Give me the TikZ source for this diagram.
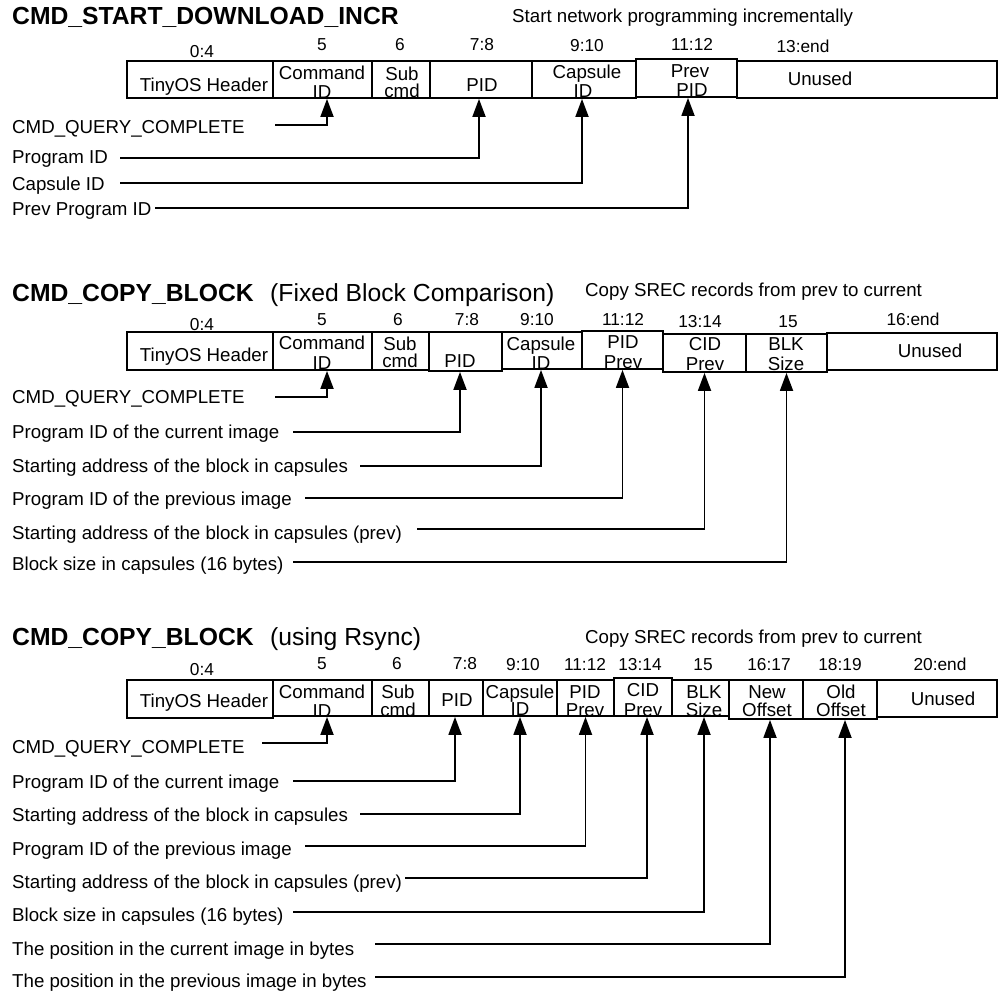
\documentclass[tikz,border=0pt]{standalone}
\usepackage{fontspec}
\setmainfont{Liberation Sans}
\usetikzlibrary{arrows.meta,fit}
\begin{document}
\begin{tikzpicture}[x=1pt,y=-1pt,
  cellbox/.style={draw, line width=1.8pt, inner sep=0pt},
  bt/.style={font=\fontsize{18.7}{19}\selectfont, inner sep=0pt, anchor=base},
  hdr/.style={font=\fontsize{17.3}{18}\selectfont, inner sep=0pt, anchor=base},
  lbl/.style={font=\fontsize{18.7}{19}\selectfont, inner sep=0pt, anchor=base west},
  ttl/.style={font=\fontsize{24.7}{26}\selectfont\bfseries, inner sep=0pt, anchor=base west},
  sttl/.style={font=\fontsize{24.7}{26}\selectfont, inner sep=0pt, anchor=base west},
  conn/.style={line width=1.8pt, -{Triangle[width=13pt,length=18pt]}}]
\path[fill=white] (0,0) rectangle (1007,993);
\useasboundingbox (0,0) rectangle (1007,993);

% ================= Section 1 =================
\node[ttl] (t1) at (12,24) {CMD\_START\_DOWNLOAD\_INCR};
\node[lbl] (d1) at (512,23) {Start network programming incrementally};
\node[hdr] (h1a) at (202,57) {0:4};
\node[hdr] (h1b) at (322,50) {5};
\node[hdr] (h1c) at (400,50) {6};
\node[hdr] (h1d) at (482,50) {7:8};
\node[hdr] (h1e) at (587,51) {9:10};
\node[hdr] (h1f) at (692,50) {11:12};
\node[hdr] (h1g) at (803,52) {13:end};

\node[cellbox, fit={(127,61) (273,98)}] (s1h) {};
\node[cellbox, fit={(273,61) (372,98)}] (s1c) {};
\node[cellbox, fit={(372,61) (430,98)}] (s1s) {};
\node[cellbox, fit={(430,61) (532,98)}] (s1p) {};
\node[cellbox, fit={(532,61) (636,98)}] (s1cap) {};
\node[cellbox, fit={(636,59) (737,97)}] (s1pp) {};
\node[cellbox, fit={(737,61) (997,98)}] (s1u) {};

\node[bt] (s1ht) at (204,91) {TinyOS Header};
\node[bt] (s1ct1) at (322,79) {Command};
\node[bt] (s1ct2) at (322,98) {ID};
\node[bt] (s1st1) at (402,80) {Sub};
\node[bt] (s1st2) at (402,97) {cmd};
\node[bt] (s1pt) at (482,91) {PID};
\node[bt] (s1capt1) at (587,78) {Capsule};
\node[bt] (s1capt2) at (583,97) {ID};
\node[bt] (s1ppt1) at (690,77) {Prev};
\node[bt] (s1ppt2) at (692,96) {PID};
\node[bt] (s1ut) at (820,85) {Unused};

\node[lbl] (s1l1) at (12,133) {CMD\_QUERY\_COMPLETE};
\node[lbl] (s1l2) at (12,163) {Program ID};
\node[lbl] (s1l3) at (12,190) {Capsule ID};
\node[lbl] (s1l4) at (12,215) {Prev Program ID};

\coordinate (s1a1) at (275,125);
\coordinate (s1a2) at (120,158);
\coordinate (s1a3) at (120,183);
\coordinate (s1a4) at (155,208);
\draw[conn] (s1a1) -| ([xshift=4.5pt]s1c.south);
\draw[conn] (s1a2) -| ([xshift=-2pt]s1p.south);
\draw[conn] (s1a3) -| ([xshift=-2pt]s1cap.south);
\draw[conn] (s1a4) -| ([xshift=1.5pt]s1pp.south);

% ================= Section 2 =================
\node[ttl] (t2) at (12,301) {CMD\_COPY\_BLOCK};
\node[sttl] (t2b) at (270,301) {(Fixed Block Comparison)};
\node[lbl] (d2) at (585,296) {Copy SREC records from prev to current};
\node[hdr] (h2a) at (202,330) {0:4};
\node[hdr] (h2b) at (322,325) {5};
\node[hdr] (h2c) at (398,325) {6};
\node[hdr] (h2d) at (467,325) {7:8};
\node[hdr] (h2e) at (537,325) {9:10};
\node[hdr] (h2f) at (623,325) {11:12};
\node[hdr] (h2g) at (700,327) {13:14};
\node[hdr] (h2h) at (788,327) {15};
\node[hdr] (h2i) at (913,325) {16:end};

\node[cellbox, fit={(127,332) (273,370)}] (s2h) {};
\node[cellbox, fit={(273,332) (372,370)}] (s2c) {};
\node[cellbox, fit={(372,332) (429,370)}] (s2s) {};
\node[cellbox, fit={(429,332) (502,371)}] (s2p) {};
\node[cellbox, fit={(502,332) (582,369)}] (s2cap) {};
\node[cellbox, fit={(582,331) (663,369)}] (s2pp) {};
\node[cellbox, fit={(663,334) (746,372)}] (s2cid) {};
\node[cellbox, fit={(746,334) (827,372)}] (s2blk) {};
\node[cellbox, fit={(827,333) (997,370)}] (s2u) {};

\node[bt] (s2ht) at (204,361) {TinyOS Header};
\node[bt] (s2ct1) at (322,349) {Command};
\node[bt] (s2ct2) at (322,369) {ID};
\node[bt] (s2st1) at (400,350) {Sub};
\node[bt] (s2st2) at (400,367) {cmd};
\node[bt] (s2pt) at (460,367) {PID};
\node[bt] (s2capt1) at (541,350) {Capsule};
\node[bt] (s2capt2) at (541,369) {ID};
\node[bt] (s2ppt1) at (623,348) {PID};
\node[bt] (s2ppt2) at (623,368) {Prev};
\node[bt] (s2cidt1) at (705,350) {CID};
\node[bt] (s2cidt2) at (705,370) {Prev};
\node[bt] (s2blkt1) at (786,350) {BLK};
\node[bt] (s2blkt2) at (786,370) {Size};
\node[bt] (s2ut) at (930,357) {Unused};

\node[lbl] (s2l1) at (12,403) {CMD\_QUERY\_COMPLETE};
\node[lbl] (s2l2) at (12,438) {Program ID of the current image};
\node[lbl] (s2l3) at (12,472) {Starting address of the block in capsules};
\node[lbl] (s2l4) at (12,505) {Program ID of the previous image};
\node[lbl] (s2l5) at (12,539) {Starting address of the block in capsules (prev)};
\node[lbl] (s2l6) at (12,570) {Block size in capsules (16 bytes)};

\coordinate (s2a1) at (275,397);
\coordinate (s2a2) at (293,432);
\coordinate (s2a3) at (360,466);
\coordinate (s2a4) at (305,498);
\coordinate (s2a5) at (417,529);
\coordinate (s2a6) at (293,562);
\draw[conn] (s2a1) -| ([xshift=4.5pt]s2c.south);
\draw[conn] (s2a2) -| ([xshift=-5.5pt]s2p.south);
\draw[conn] (s2a3) -| ([xshift=-1pt]s2cap.south);
\draw[conn] (s2a4) -| (s2pp.south);
\draw[conn] (s2a5) -| (s2cid.south);
\draw[conn] (s2a6) -| (s2blk.south);

% ================= Section 3 =================
\node[ttl] (t3) at (12,645) {CMD\_COPY\_BLOCK};
\node[sttl] (t3b) at (270,645) {(using Rsync)};
\node[lbl] (d3) at (585,643) {Copy SREC records from prev to current};
\node[hdr] (h3a) at (202,675) {0:4};
\node[hdr] (h3b) at (322,669) {5};
\node[hdr] (h3c) at (397,669) {6};
\node[hdr] (h3d) at (465,669) {7:8};
\node[hdr] (h3e) at (523,670) {9:10};
\node[hdr] (h3f) at (585,670) {11:12};
\node[hdr] (h3g) at (640,670) {13:14};
\node[hdr] (h3h) at (703,670) {15};
\node[hdr] (h3i) at (769,670) {16:17};
\node[hdr] (h3j) at (840,670) {18:19};
\node[hdr] (h3k) at (940,670) {20:end};

\node[cellbox, fit={(127,680) (273,718)}] (s3h) {};
\node[cellbox, fit={(273,680) (372,716)}] (s3c) {};
\node[cellbox, fit={(372,680) (429,716)}] (s3s) {};
\node[cellbox, fit={(429,680) (483,716)}] (s3p) {};
\node[cellbox, fit={(483,680) (557,716)}] (s3cap) {};
\node[cellbox, fit={(557,680) (614,716)}] (s3pp) {};
\node[cellbox, fit={(614,678) (672,716)}] (s3cid) {};
\node[cellbox, fit={(672,680) (729,716)}] (s3blk) {};
\node[cellbox, fit={(729,680) (803,719)}] (s3new) {};
\node[cellbox, fit={(803,680) (877,719)}] (s3old) {};
\node[cellbox, fit={(877,680) (997,717)}] (s3u) {};

\node[bt] (s3ht) at (204,707) {TinyOS Header};
\node[bt] (s3ct1) at (322,698) {Command};
\node[bt] (s3ct2) at (322,717) {ID};
\node[bt] (s3st1) at (398,698) {Sub};
\node[bt] (s3st2) at (398,716) {cmd};
\node[bt] (s3pt) at (457,706) {PID};
\node[bt] (s3capt1) at (520,698) {Capsule};
\node[bt] (s3capt2) at (520,715) {ID};
\node[bt] (s3ppt1) at (585,698) {PID};
\node[bt] (s3ppt2) at (585,716) {Prev};
\node[bt] (s3cidt1) at (643,696) {CID};
\node[bt] (s3cidt2) at (643,716) {Prev};
\node[bt] (s3blkt1) at (704,698) {BLK};
\node[bt] (s3blkt2) at (704,716) {Size};
\node[bt] (s3newt1) at (767,698) {New};
\node[bt] (s3newt2) at (767,716) {Offset};
\node[bt] (s3oldt1) at (841,698) {Old};
\node[bt] (s3oldt2) at (841,716) {Offset};
\node[bt] (s3ut) at (943,705) {Unused};

\node[lbl] (s3l1) at (12,753) {CMD\_QUERY\_COMPLETE};
\node[lbl] (s3l2) at (12,788) {Program ID of the current image};
\node[lbl] (s3l3) at (12,821) {Starting address of the block in capsules};
\node[lbl] (s3l4) at (12,855) {Program ID of the previous image};
\node[lbl] (s3l5) at (12,888) {Starting address of the block in capsules (prev)};
\node[lbl] (s3l6) at (12,921) {Block size in capsules (16 bytes)};
\node[lbl] (s3l7) at (12,955) {The position in the current image in bytes};
\node[lbl] (s3l8) at (12,987) {The position in the previous image in bytes};

\coordinate (s3a1) at (262,743);
\coordinate (s3a2) at (293,781);
\coordinate (s3a3) at (360,814);
\coordinate (s3a4) at (305,846);
\coordinate (s3a5) at (405,878);
\coordinate (s3a6) at (293,912);
\coordinate (s3a7) at (375,944);
\coordinate (s3a8) at (375,977);
\draw[conn] (s3a1) -| ([xshift=4.5pt]s3c.south);
\draw[conn] (s3a2) -| ([xshift=-1pt]s3p.south);
\draw[conn] (s3a3) -| (s3cap.south);
\draw[conn] (s3a4) -| (s3pp.south);
\draw[conn] (s3a5) -| ([xshift=4pt]s3cid.south);
\draw[conn] (s3a6) -| ([xshift=3.5pt]s3blk.south);
\draw[conn] (s3a7) -| ([xshift=4pt]s3new.south);
\draw[conn] (s3a8) -| ([xshift=5pt]s3old.south);
\end{tikzpicture}
\end{document}
